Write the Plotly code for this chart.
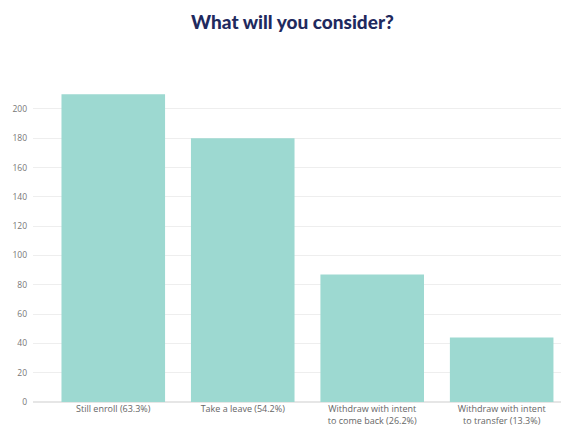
import plotly.graph_objects as go

categories = ["Still enroll (63.3%)", "Take a leave (54.2%)",
              "Withdraw with intent<br>to come back (26.2%)",
              "Withdraw with intent<br>to transfer (13.3%)"]
values = [210, 180, 87, 44]
y_ticks = [0, 20, 40, 60, 80, 100, 120, 140, 160, 180, 200]

fig = go.Figure(go.Bar(
    x=list(range(len(categories))), y=values,
    marker=dict(color="#9dd9d1", line=dict(width=0)),
))

fig.update_layout(
    width=569, height=428,
    paper_bgcolor="white", plot_bgcolor="white",
    margin=dict(l=25, r=8, t=79, b=34, autoexpand=False),
    bargap=0.2,
    showlegend=False,
    title=dict(text="What will you consider?", x=0.5, xanchor="center",
               y=1 - 14 / 428, yanchor="middle",
               font=dict(family="Lato", size=19, color="#1f2a5e", weight=900)),
    font=dict(family="Open Sans", size=8, color="#666"),
)
fig.update_xaxes(
    tickmode="array", tickvals=list(range(len(categories))), ticktext=categories,
    range=[-0.62, 3.52], showgrid=False, zeroline=False, showline=False,
    ticks="", tickfont=dict(family="Open Sans", size=9, color="#666"),
    automargin=False,
)
fig.update_yaxes(
    range=[0, 215], tickmode="array", tickvals=y_ticks,
    showgrid=True, gridcolor="#eeeeee", gridwidth=1,
    zeroline=True, zerolinecolor="#e6e6e6", showline=False,
    ticks="", ticklabelstandoff=5,
    tickfont=dict(family="Open Sans", size=8.5, color="#777"),
    automargin=False,
)

fig.write_html("out.html")
